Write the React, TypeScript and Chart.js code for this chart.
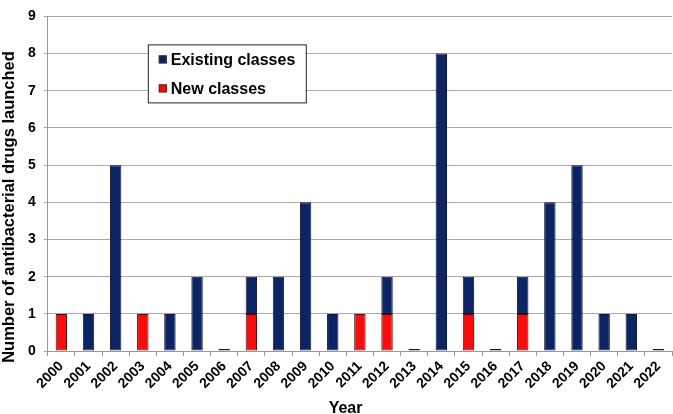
import React, { useEffect, useRef } from "react";
import { Chart, registerables } from "chart.js";

Chart.register(...registerables);

const years = ["2000","2001","2002","2003","2004","2005","2006","2007","2008","2009","2010","2011","2012","2013","2014","2015","2016","2017","2018","2019","2020","2021","2022"];
const existingClasses = [0,1,5,0,1,2,0,1,2,4,1,0,1,0,8,1,0,1,4,5,1,1,0];
const newClasses = [1,0,0,1,0,0,0,1,0,0,0,1,1,0,0,1,0,1,0,0,0,0,0];
const yTicks = [0,1,2,3,4,5,6,7,8,9];
const xTitle = "Year";
const yTitle = "Number of antibacterial drugs launched";

const NAVY = "#0b2465";
const RED = "#ff0a0a";
const FONT = "'Liberation Sans', Arial, sans-serif";

const legendPlugin = {
  id: "boxLegend",
  afterDatasetsDraw(chart: any) {
    const { ctx, chartArea } = chart;
    const x = chartArea.left + 100;
    const y = chartArea.top + 28;
    const w = 158;
    const h = 58;
    ctx.save();
    ctx.fillStyle = "#ffffff";
    ctx.fillRect(x, y, w, h);
    ctx.strokeStyle = "#222222";
    ctx.lineWidth = 1;
    ctx.strokeRect(x + 0.5, y + 0.5, w, h);
    const items = [chart.data.datasets[1], chart.data.datasets[0]];
    ctx.font = `bold 16px ${FONT}`;
    ctx.textBaseline = "middle";
    items.forEach((ds: any, i: number) => {
      const cy = y + 15 + i * 29;
      ctx.fillStyle = ds.backgroundColor;
      ctx.fillRect(x + 11, cy - 4, 8, 8);
      ctx.strokeStyle = "#333333";
      ctx.strokeRect(x + 11.5, cy - 3.5, 7, 7);
      ctx.fillStyle = "#000000";
      ctx.fillText(ds.label, x + 23, cy + 1);
    });
    ctx.restore();
  },
};

const titlesPlugin = {
  id: "axisTitles",
  afterDraw(chart: any) {
    const { ctx, chartArea, height } = chart;
    ctx.save();
    ctx.font = `bold 16px ${FONT}`;
    ctx.fillStyle = "#000";
    ctx.textAlign = "center";
    ctx.textBaseline = "alphabetic";
    ctx.fillText(xTitle, chartArea.left + (chartArea.right - chartArea.left) * 0.477, height - 1);
    ctx.font = `bold 16.5px ${FONT}`;
    ctx.translate(14, height / 2);
    ctx.rotate(-Math.PI / 2);
    ctx.fillText(yTitle, 0, 0);
    ctx.restore();
  },
};

export default function App() {
  const ref = useRef<HTMLCanvasElement>(null);
  useEffect(() => {
    document.body.style.margin = "0";
    const existingData = existingClasses.map((v, i) => (v === 0 && newClasses[i] > 0 ? null : v));
    const newData = newClasses.map((v) => (v === 0 ? null : v));
    const chart = new Chart(ref.current!, {
      type: "bar",
      data: {
        labels: years,
        datasets: [
          {
            label: "New classes",
            data: newData,
            backgroundColor: RED,
            borderColor: "#3a1010",
            borderWidth: 1,
            borderSkipped: false,
            barPercentage: 0.42,
            categoryPercentage: 1,
          },
          {
            label: "Existing classes",
            data: existingData,
            backgroundColor: NAVY,
            borderColor: "#101830",
            borderWidth: 1,
            borderSkipped: false,
            minBarLength: 2,
            barPercentage: 0.42,
            categoryPercentage: 1,
          },
        ],
      },
      options: {
        responsive: false,
        animation: false,
        layout: { padding: { left: 20, right: 1, top: 6, bottom: 20 } },
        plugins: { legend: { display: false }, tooltip: { enabled: false } },
        scales: {
          x: {
            stacked: true,
            offset: true,
            grid: { display: true, drawOnChartArea: false, offset: true, color: "#999999", tickLength: 5 },
            border: { color: "#999999" },
            ticks: {
              color: "#000",
              font: { family: FONT, size: 14, weight: "bold" },
              maxRotation: 45,
              minRotation: 45,
              autoSkip: false,
              padding: 2,
            },
          },
          y: {
            stacked: true,
            min: 0,
            max: 9,
            afterBuildTicks: (s: any) => {
              s.ticks = yTicks.map((v) => ({ value: v }));
            },
            grid: { color: "#aaaaaa", tickLength: 4 },
            border: { color: "#999999" },
            ticks: {
              color: "#000",
              font: { family: FONT, size: 14, weight: "bold" },
              padding: 8,
            },
          },
        },
      },
      plugins: [legendPlugin, titlesPlugin],
    });
    return () => chart.destroy();
  }, []);
  return <canvas ref={ref} width={673} height={414} style={{ display: "block" }} />;
}
